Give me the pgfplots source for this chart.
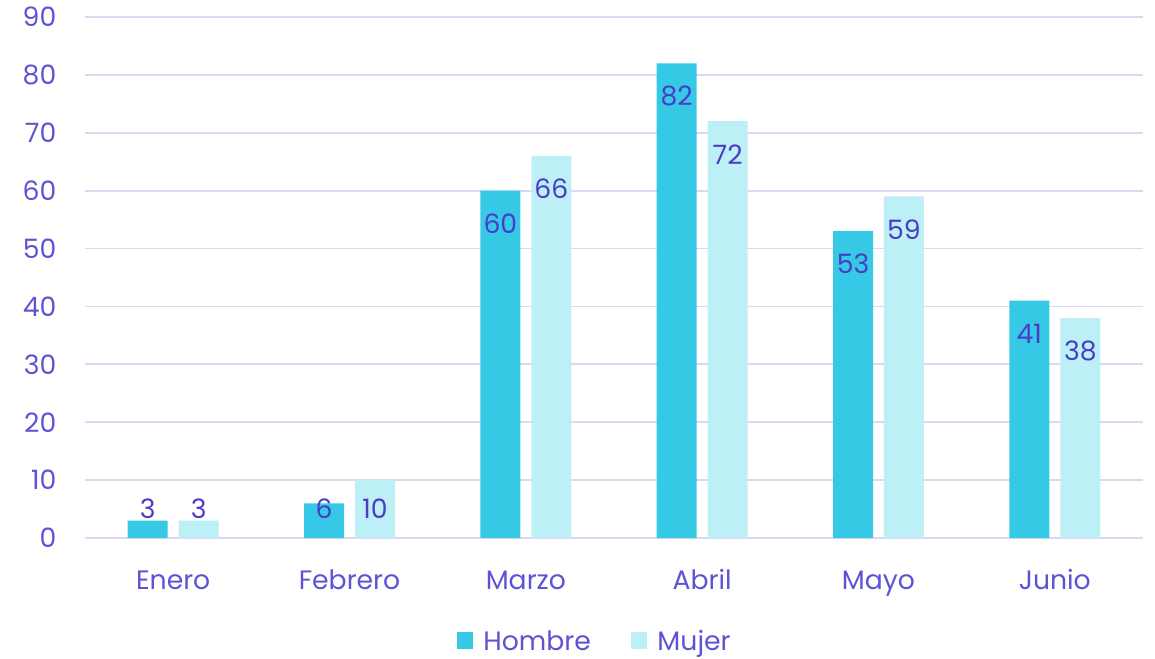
\documentclass[border=0pt]{standalone}
\usepackage{fontspec}
\setmainfont{Poppins}
\usepackage{pgfplots}
\pgfplotsset{compat=1.18}
\definecolor{hombre}{HTML}{36C9E6}
\definecolor{mujer}{HTML}{BDEFF6}
\definecolor{txt}{HTML}{5D53D3}
\definecolor{lbl}{HTML}{4A3CC6}
\definecolor{gridc}{HTML}{DCD8F4}
\begin{document}
\begin{tikzpicture}
\useasboundingbox (-63.75pt,-90pt) rectangle (802.5pt,403.5pt);
\begin{axis}[at={(0,0)}, anchor=south west,
 scale only axis, width=793.5pt, height=390.75pt,
 xmin=-0.5, xmax=5.5, ymin=0, ymax=90,
 ytick={0,10,...,90}, xtick={0,...,5},
 xticklabels={Enero,Febrero,Marzo,Abril,Mayo,Junio},
 axis line style={draw=none}, major tick length=0pt,
 ymajorgrids, grid style={gridc, line width=1.4pt},
 tick label style={font=\fontsize{20}{24}\selectfont, text=txt},
 /pgf/number format/assume math mode=true,
 yticklabel style={xshift=-18pt},
 xticklabel style={yshift=-21pt, text height=14pt, text depth=4pt},
 ybar, bar width=30pt,
 visualization depends on={y \as \rawy},
 nodes near coords,
 nodes near coords style={font=\fontsize{20}{24}\selectfont, text=lbl, anchor=center,
   yshift={-min(\rawy-5,5.7)*4.343pt}},
 legend style={at={(0.482,-0.198)}, anchor=center, draw=none, legend columns=2,
   font=\fontsize{20}{24}\selectfont, text=txt,
   /tikz/every odd column/.append style={column sep=5.5pt},
   /tikz/every even column/.append style={column sep=28pt}},
 legend image code/.code={\fill[#1] (0pt,-6pt) rectangle (12.5pt,6.5pt);},
]
\addplot[fill=hombre, draw=none, bar shift=-19.1pt] coordinates {(0,3) (1,6) (2,60) (3,82) (4,53) (5,41)};
\addplot[fill=mujer, draw=none, bar shift=19.1pt] coordinates {(0,3) (1,10) (2,66) (3,72) (4,59) (5,38)};
\legend{Hombre, Mujer}
\end{axis}
\end{tikzpicture}
\end{document}
